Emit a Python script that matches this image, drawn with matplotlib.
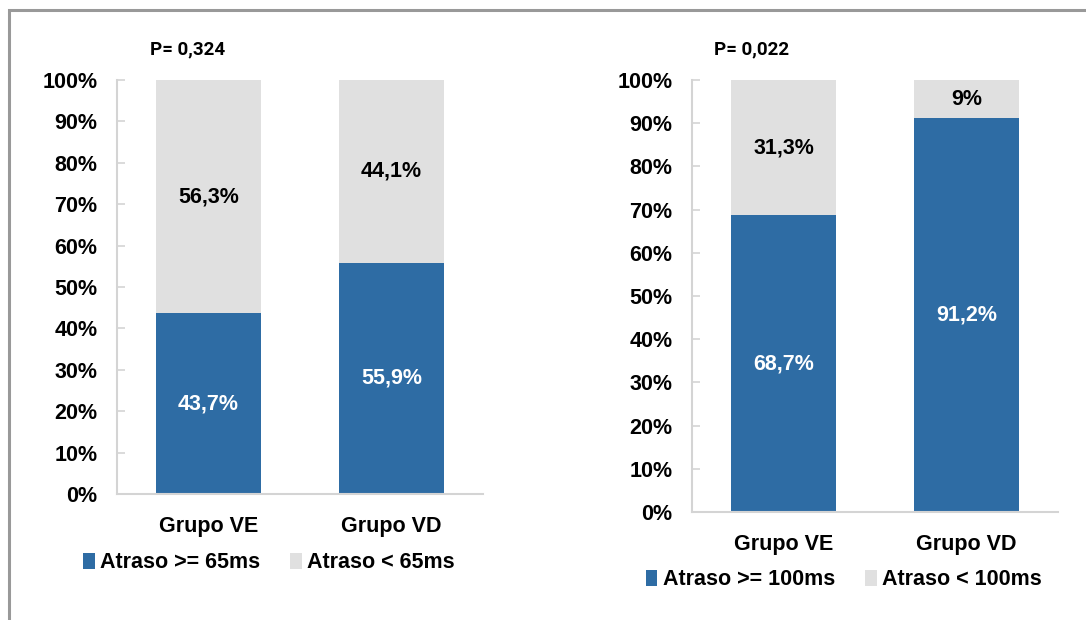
import matplotlib
matplotlib.use("Agg")
import matplotlib.pyplot as plt
from matplotlib.patches import Rectangle
import numpy as np

# Data for both panels
groups = ["Grupo VE", "Grupo VD"]

delay65_high = [43.7, 55.9]
delay65_low = [56.3, 44.1]
p_value_65 = "P= 0,324"
legend_65 = ["Atraso >= 65ms", "Atraso < 65ms"]

delay100_high = [68.7, 91.2]
delay100_low = [31.3, 9]
p_value_100 = "P= 0,022"
legend_100 = ["Atraso >= 100ms", "Atraso < 100ms"]

yticks = list(range(0, 101, 10))

BLUE = "#2e6ca4"
GRAY = "#e0e0e0"
AXIS_GRAY = "#d4d4d4"

plt.rcParams["font.family"] = ["Liberation Sans", "DejaVu Sans"]
plt.rcParams["font.weight"] = "bold"

fig = plt.figure(figsize=(10.86, 6.2), dpi=100)

# outer frame (only left and top edges fall inside the image)
fig.patches.append(Rectangle((9 / 1086, -0.1), 1.2, 1 - 10 / 620 + 0.1,
                             transform=fig.transFigure, fill=False,
                             edgecolor="#999999", linewidth=2.2))


def fmt(v):
    s = f"{v:g}".replace(".", ",")
    return s + "%"


def draw_panel(rect, high, low, legend_labels, p_text, p_x, leg_y):
    ax = fig.add_axes(rect)
    x = np.arange(len(groups))
    width = 0.575
    ax.bar(x, high, width, color=BLUE, label=legend_labels[0])
    ax.bar(x, low, width, bottom=high, color=GRAY, label=legend_labels[1])

    for xi, h, l in zip(x, high, low):
        ax.text(xi, h / 2, fmt(h), ha="center", va="center",
                color="white", fontsize=15.5, fontweight="bold")
        top = min(h + l, 100)
        ax.text(xi, (h + top) / 2, fmt(l),
                ha="center", va="center", color="black",
                fontsize=15.5, fontweight="bold")

    ax.set_xlim(-0.5, 1.5)
    ax.set_ylim(0, 100)
    ax.set_yticks(yticks)
    ax.set_yticklabels([f"{t}%" for t in yticks], fontsize=15.5, fontweight="bold")
    ax.set_xticks(x)
    ax.set_xticklabels(groups, fontsize=15.5, fontweight="bold")
    ax.tick_params(axis="y", direction="in", length=6, width=1.2,
                   color=AXIS_GRAY, pad=14)
    ax.tick_params(axis="x", length=0, pad=16)
    for side in ("top", "right"):
        ax.spines[side].set_visible(False)
    for side in ("left", "bottom"):
        ax.spines[side].set_color(AXIS_GRAY)
        ax.spines[side].set_linewidth(1.5)

    ax.legend(loc="center", bbox_to_anchor=(0.415, leg_y), ncol=2,
              frameon=False, fontsize=15.5, handlelength=0.55,
              handleheight=0.75, handletextpad=0.25, columnspacing=1.4,
              borderaxespad=0)

    fig.text(p_x, 1 - 49 / 620, p_text, fontsize=13.5, fontweight="bold",
             family=["Roboto", "Liberation Sans"], va="center", ha="left")
    return ax


draw_panel([117 / 1086, 1 - 494 / 620, 366 / 1086, 414 / 620],
           delay65_high, delay65_low, legend_65, p_value_65, 150 / 1086, -0.166)
draw_panel([692 / 1086, 1 - 512 / 620, 366 / 1086, 432 / 620],
           delay100_high, delay100_low, legend_100, p_value_100, 714 / 1086, -0.157)

fig.savefig("out.png", dpi=100)
